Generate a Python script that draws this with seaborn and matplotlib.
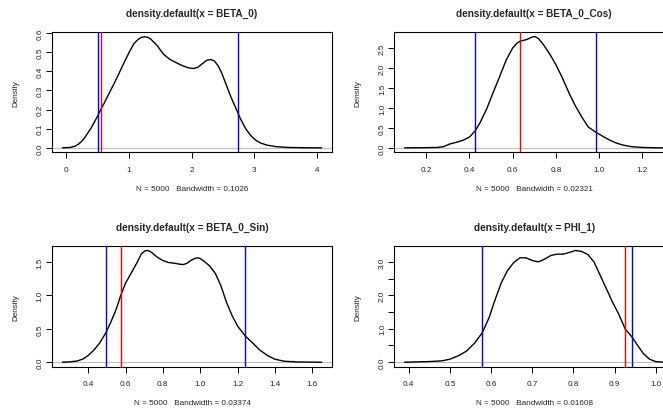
import numpy as np
import pandas as pd
import matplotlib
matplotlib.use("Agg")
import matplotlib.pyplot as plt
import seaborn as sns

# ---------------- data ----------------
titles = ["density.default(x = BETA_0)", "density.default(x = BETA_0_Cos)",
          "density.default(x = BETA_0_Sin)", "density.default(x = PHI_1)"]
subtitles = ["N = 5000   Bandwidth = 0.1026", "N = 5000   Bandwidth = 0.02321",
             "N = 5000   Bandwidth = 0.03374", "N = 5000   Bandwidth = 0.01608"]

beta0_x = [-0.06, 0.0, 0.05, 0.10, 0.15, 0.20, 0.25, 0.30, 0.35, 0.40, 0.45, 0.50, 0.55,
           0.60, 0.70, 0.80, 0.90, 1.00, 1.08, 1.15, 1.20, 1.25, 1.30, 1.35, 1.45, 1.55,
           1.65, 1.75, 1.85, 1.95, 2.03, 2.10, 2.17, 2.24, 2.30, 2.36, 2.42, 2.48, 2.55,
           2.62, 2.70, 2.78, 2.86, 2.94, 3.02, 3.10, 3.20, 3.35, 3.55, 3.80, 4.07]
beta0_y = [0.0, 0.001, 0.002, 0.005, 0.01, 0.02, 0.035, 0.055, 0.08, 0.105, 0.135, 0.165,
           0.20, 0.23, 0.295, 0.36, 0.43, 0.497, 0.545, 0.568, 0.578, 0.581, 0.578, 0.568,
           0.535, 0.49, 0.463, 0.446, 0.43, 0.418, 0.415, 0.422, 0.44, 0.458, 0.462, 0.455,
           0.43, 0.39, 0.33, 0.27, 0.21, 0.15, 0.10, 0.065, 0.04, 0.025, 0.014, 0.006,
           0.002, 0.0005, 0.0]

cos_x = [0.10, 0.15, 0.20, 0.25, 0.28, 0.31, 0.34, 0.37, 0.40, 0.427, 0.45, 0.48, 0.51,
         0.54, 0.57, 0.60, 0.62, 0.635, 0.65, 0.665, 0.68, 0.695, 0.705, 0.72, 0.74, 0.77,
         0.80, 0.83, 0.86, 0.89, 0.92, 0.95, 0.985, 1.02, 1.05, 1.08, 1.11, 1.15, 1.20,
         1.25, 1.30]
cos_y = [0.0, 0.002, 0.005, 0.01, 0.03, 0.10, 0.14, 0.19, 0.27, 0.43, 0.64, 0.98, 1.39,
         1.79, 2.2, 2.5, 2.62, 2.67, 2.69, 2.71, 2.75, 2.78, 2.78, 2.73, 2.6, 2.36,
         2.08, 1.75, 1.38, 1.05, 0.77, 0.52, 0.39, 0.28, 0.19, 0.12, 0.07, 0.03, 0.01,
         0.003, 0.0]

sin_x = [0.262, 0.30, 0.34, 0.37, 0.40, 0.43, 0.46, 0.495, 0.52, 0.55, 0.576, 0.60, 0.63,
         0.66, 0.685, 0.705, 0.72, 0.74, 0.77, 0.80, 0.83, 0.86, 0.89, 0.91, 0.93, 0.95,
         0.97, 0.985, 1.00, 1.02, 1.05, 1.08, 1.11, 1.14, 1.17, 1.20, 1.242, 1.28, 1.32,
         1.36, 1.40, 1.45, 1.52, 1.65]
sin_y = [0.0, 0.005, 0.018, 0.045, 0.10, 0.18, 0.28, 0.44, 0.59, 0.79, 1.01, 1.18, 1.33,
         1.48, 1.62, 1.665, 1.67, 1.64, 1.57, 1.52, 1.49, 1.48, 1.465, 1.46, 1.48, 1.52,
         1.55, 1.56, 1.55, 1.51, 1.44, 1.33, 1.15, 0.90, 0.70, 0.54, 0.39, 0.29, 0.18,
         0.10, 0.045, 0.015, 0.004, 0.0]

phi_x = [0.39, 0.42, 0.45, 0.48, 0.50, 0.52, 0.54, 0.56, 0.579, 0.595, 0.61, 0.625, 0.64,
         0.655, 0.67, 0.685, 0.70, 0.715, 0.73, 0.745, 0.76, 0.775, 0.79, 0.805, 0.82,
         0.835, 0.85, 0.865, 0.88, 0.895, 0.91, 0.926, 0.942, 0.955, 0.97, 0.985, 1.00, 1.02]
phi_y = [0.0, 0.01, 0.02, 0.04, 0.09, 0.19, 0.33, 0.57, 0.89, 1.33, 1.88, 2.38, 2.74,
         2.98, 3.12, 3.12, 3.04, 3.0, 3.08, 3.19, 3.23, 3.23, 3.28, 3.34, 3.31, 3.22,
         3.0, 2.6, 2.2, 1.8, 1.44, 0.99, 0.76, 0.52, 0.26, 0.09, 0.02, 0.0]

# vertical reference lines: (lower bound, central, upper bound)
blue_lo = [0.50, 0.427, 0.495, 0.579]
red_mid = [0.553, 0.635, 0.576, 0.926]
blue_hi = [2.736, 0.984, 1.242, 0.942]

x_ticks = [[0, 1, 2, 3, 4],
           [0.2, 0.4, 0.6, 0.8, 1.0, 1.2],
           [0.4, 0.6, 0.8, 1.0, 1.2, 1.4, 1.6],
           [0.4, 0.5, 0.6, 0.7, 0.8, 0.9, 1.0]]
y_ticks = [[0.0, 0.1, 0.2, 0.3, 0.4, 0.5, 0.6],
           [0.0, 0.5, 1.0, 1.5, 2.0, 2.5],
           [0.0, 0.5, 1.0, 1.5],
           [0.0, 0.5, 1.0, 1.5, 2.0, 2.5, 3.0]]
y_labels = [["0.0", "0.1", "0.2", "0.3", "0.4", "0.5", "0.6"],
            ["0.0", "0.5", "1.0", "1.5", "2.0", "2.5"],
            ["0.0", "0.5", "1.0", "1.5"],
            ["0.0", "", "1.0", "", "2.0", "", "3.0"]]

curves = [(beta0_x, beta0_y), (cos_x, cos_y), (sin_x, sin_y), (phi_x, phi_y)]

# ---------------- style ----------------
sns.set_style("white")
plt.rcParams["font.family"] = ["Liberation Sans", "DejaVu Sans"]
plt.rcParams["axes.linewidth"] = 0.8

W, H = 663, 410
fig = plt.figure(figsize=(W / 100, H / 100), dpi=100)

boxes = [(52, 33.3, 280, 120), (394.3, 33.3, 280, 120),
         (52, 247, 280, 120.7), (394.3, 247, 280, 120.7)]

for i, (bx, by, bw, bh) in enumerate(boxes):
    ax = fig.add_axes([bx / W, 1 - (by + bh) / H, bw / W, bh / H])
    xs, ys = curves[i]
    df = pd.DataFrame({"x": xs, "y": ys})
    ax.axhline(0, color="#bebebe", lw=0.8, zorder=1)
    sns.lineplot(data=df, x="x", y="y", ax=ax, color="black", lw=1.0,
                 estimator=None, sort=True, zorder=3)
    ax.axvline(blue_lo[i], color="blue", lw=1.0, zorder=4)
    ax.axvline(blue_hi[i], color="blue", lw=1.0, zorder=4)
    ax.axvline(red_mid[i], color="red", lw=1.0, zorder=5)

    xmin, xmax = min(xs), max(xs)
    ymax = max(ys)
    ax.set_xlim(xmin - 0.04 * (xmax - xmin), xmax + 0.04 * (xmax - xmin))
    ax.set_ylim(-0.04 * ymax, ymax * 1.04)

    ax.set_xticks(x_ticks[i])
    ax.set_xticklabels([f"{t:g}" if i == 0 else f"{t:.1f}" for t in x_ticks[i]])
    ax.set_yticks(y_ticks[i])
    ax.set_yticklabels(y_labels[i], rotation=90, va="center")
    ax.tick_params(axis="both", which="major", direction="out", length=4.3,
                   width=0.7, color="black", labelsize=5.9,
                   bottom=True, left=True)
    ax.tick_params(axis="x", pad=5.5)
    ax.tick_params(axis="y", pad=1.6)
    for s in ax.spines.values():
        s.set_color("black")
        s.set_linewidth(0.8)

    ax.set_title(titles[i], fontsize=7.2, fontweight="bold", pad=11.5)
    ax.set_xlabel(subtitles[i], fontsize=5.9, labelpad=8.5)
    ax.set_ylabel("Density", fontsize=5.9, labelpad=12.5)

fig.savefig("out.png", dpi=100)
